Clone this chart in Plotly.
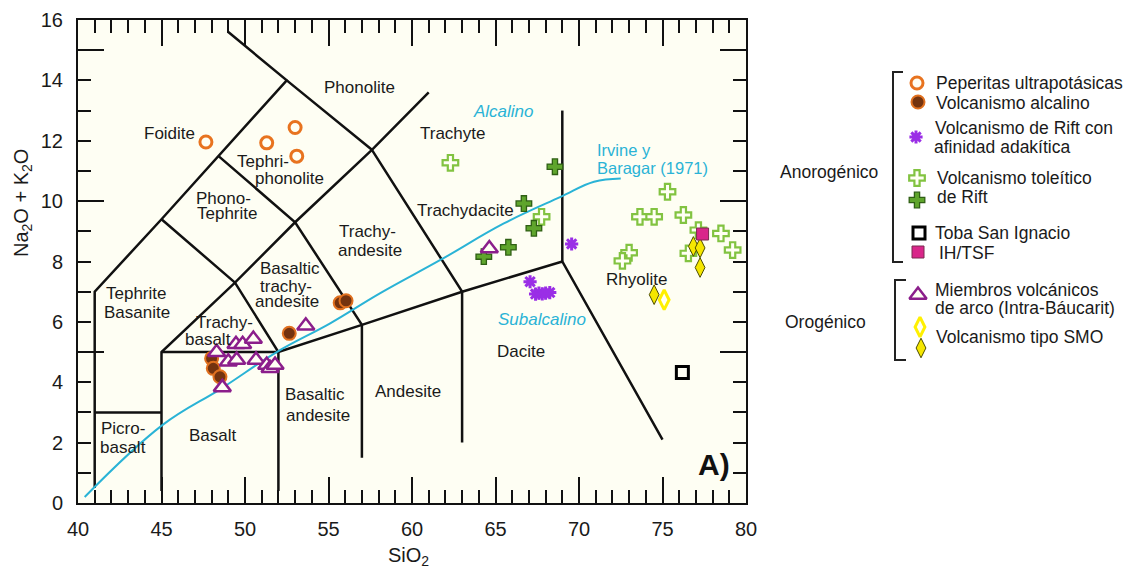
import plotly.graph_objects as go

W, H = 1129, 571
PX_L, PX_R, PX_T, PX_B = 78, 746, 20, 503
FONT = "Liberation Sans, Arial, sans-serif"

# ---------------- data ----------------
pep_x = [47.66, 51.3, 53.0, 53.1]
pep_y = [11.96, 11.93, 12.44, 11.49]

alc_x = [48.0, 48.1, 48.5, 52.65, 55.7, 56.05]
alc_y = [4.79, 4.46, 4.18, 5.62, 6.63, 6.70]

adak_x = [69.56, 67.07, 67.4, 67.6, 67.8, 68.0, 68.25]
adak_y = [8.58, 7.33, 6.92, 6.95, 6.93, 6.95, 6.97]

tol_light_x = [62.3, 67.76, 75.3, 73.65, 74.5, 76.25, 77.15, 78.5, 79.2, 76.55, 73.0, 72.6]
tol_light_y = [11.27, 9.48, 10.31, 9.48, 9.48, 9.54, 9.04, 8.93, 8.38, 8.27, 8.29, 8.02]

tol_dark_x = [68.56, 66.7, 67.3, 65.77, 64.3]
tol_dark_y = [11.14, 9.92, 9.1, 8.47, 8.16]

toba_x = [76.19]
toba_y = [4.32]

ih_x = [77.4]
ih_y = [8.91]

arc_x = [48.3, 49.0, 49.5, 49.46, 49.86, 50.5, 50.66, 51.3, 51.5, 51.8, 48.64, 53.64, 64.63]
arc_y = [4.99, 4.68, 4.74, 5.26, 5.26, 5.43, 4.74, 4.57, 4.46, 4.57, 3.83, 5.87, 8.43]

smo_open_x = [75.1]
smo_open_y = [6.73]
smo_fill_x = [76.85, 77.25, 77.25, 74.5]
smo_fill_y = [8.5, 8.45, 7.8, 6.9]

# Irvine & Baragar (1971) alkaline / subalkaline divide
ib_x = [40.4, 45.05, 48.6, 51.9, 55.1, 58.1, 61.7, 65.5, 68.9, 70.9, 72.5]
ib_y = [0.2, 2.58, 3.8, 5.0, 5.95, 6.95, 8.05, 9.26, 10.14, 10.64, 10.75]

# TAS field boundaries (Le Bas et al., 1986)
field_lines = [
    [(41, 0.5), (41, 7), (45, 9.4), (48.4, 11.5), (52.5, 14), (49.0, 15.6)],
    [(52.5, 14), (57.6, 11.7), (61, 13.6)],
    [(57.6, 11.7), (63, 7), (63, 2)],
    [(45, 9.4), (49.4, 7.3), (53, 9.3), (57.6, 11.7)],
    [(48.4, 11.5), (53, 9.3), (57, 5.9), (57, 1.5)],
    [(45, 0.4), (45, 5), (49.4, 7.3), (52, 5), (52, 0.4)],
    [(45, 5), (52, 5), (57, 5.9), (63, 7), (69, 8), (75.0, 2.1)],
    [(41, 3), (45, 3)],
    [(69, 8), (69, 13)],
]

# field names: (text, x, y)
field_labels = [
    ("Foidite", 45.45, 12.24), ("Phonolite", 56.84, 13.76),
    ("Tephri-", 51.10, 11.30), ("phonolite", 52.69, 10.75),
    ("Phono-", 48.70, 10.09), ("Tephrite", 48.90, 9.59),
    ("Trachyte", 62.47, 12.24),
    ("Trachy-", 57.31, 8.98), ("andesite", 57.49, 8.38),
    ("Trachydacite", 63.23, 9.70),
    ("Tephrite", 43.47, 6.94), ("Basanite", 43.55, 6.30),
    ("Basaltic", 52.69, 7.77), ("trachy-", 52.46, 7.16), ("andesite", 52.50, 6.67),
    ("Trachy-", 48.80, 5.97), ("basalt", 47.80, 5.42),
    ("Picro-", 42.71, 2.47), ("basalt", 42.71, 1.83),
    ("Basalt", 48.07, 2.22),
    ("Basaltic", 54.19, 3.58), ("andesite", 54.39, 2.91),
    ("Andesite", 59.76, 3.71), ("Dacite", 66.50, 5.02), ("Rhyolite", 73.43, 7.40),
]

CYAN = "#2ab3d6"
PURPLE = "#8b1e8b"

# marker styles
styles = {
    "pep": dict(symbol="circle", size=12, color="#fffff4", line=dict(color="#e8731f", width=3)),
    "alc": dict(symbol="circle", size=13, color="#74330f", line=dict(color="#e0701f", width=2)),
    "adak": dict(symbol="asterisk-open", size=11, color="#9a2ee6", line=dict(color="#9a2ee6", width=3)),
    "toll": dict(symbol="cross", size=13, color="#fffff4", line=dict(color="#82c341", width=2.2)),
    "told": dict(symbol="cross", size=13, color="#5fa52c", line=dict(color="#2f5f14", width=1.3)),
    "toba": dict(symbol="square-open", size=12, color="black", line=dict(color="black", width=3)),
    "ih": dict(symbol="square", size=12, color="#d9268a", line=dict(color="#7a2a50", width=1)),
    "arc": dict(symbol="triangle-up", size=15, color="#fffff4", line=dict(color=PURPLE, width=2.5)),
    "smoo": dict(symbol="diamond-tall", size=14, color="#fffff4", line=dict(color="#fff000", width=3)),
    "smof": dict(symbol="diamond-tall", size=14, color="#f5e600", line=dict(color="#4d4d00", width=1)),
}

fig = go.Figure()

# cream plot background
fig.add_shape(type="rect", xref="x", yref="y", x0=40, x1=80, y0=0, y1=16,
              fillcolor="#fefef3", line=dict(width=0), layer="below")

for seg in field_lines:
    fig.add_trace(go.Scatter(x=[p[0] for p in seg], y=[p[1] for p in seg], mode="lines",
                             line=dict(color="#111111", width=2.5), hoverinfo="skip",
                             showlegend=False))

fig.add_trace(go.Scatter(x=ib_x, y=ib_y, mode="lines",
                         line=dict(color=CYAN, width=2, shape="spline", smoothing=1.1),
                         hoverinfo="skip", showlegend=False))

series = [
    ("alc", alc_x, alc_y), ("pep", pep_x, pep_y), ("adak", adak_x, adak_y),
    ("toll", tol_light_x, tol_light_y), ("told", tol_dark_x, tol_dark_y),
    ("arc", arc_x, arc_y), ("toba", toba_x, toba_y),
    ("smoo", smo_open_x, smo_open_y), ("smof", smo_fill_x, smo_fill_y), ("ih", ih_x, ih_y),
]
for key, xs, ys in series:
    fig.add_trace(go.Scatter(x=xs, y=ys, mode="markers", marker=styles[key], showlegend=False))

# dummy trace for the overlay y axis carrying the long ticks
fig.add_trace(go.Scatter(x=[40], y=[0], xaxis="x", yaxis="y2", mode="markers",
                         marker=dict(opacity=0), hoverinfo="skip", showlegend=False))

# ---------------- legend (pixel overlay) ----------------
legend_keys = [("pep", 917, 83), ("alc", 918, 102), ("adak", 916, 137), ("toll", 917, 178),
               ("told", 917, 200), ("toba", 919, 233), ("ih", 918, 252), ("arc", 918, 295),
               ("smoo", 920, 327), ("smof", 921, 348)]
for key, px, py in legend_keys:
    fig.add_trace(go.Scatter(x=[px], y=[py], xaxis="x3", yaxis="y3", mode="markers",
                             marker=styles[key], hoverinfo="skip", showlegend=False))

brackets = [[(903, 72), (893, 72), (893, 262), (903, 262)],
            [(906, 280), (895, 280), (895, 360), (906, 360)]]
for b in brackets:
    fig.add_trace(go.Scatter(x=[p[0] for p in b], y=[p[1] for p in b], xaxis="x3", yaxis="y3",
                             mode="lines", line=dict(color="#222", width=2), hoverinfo="skip",
                             showlegend=False))

legend_texts = [("Peperitas ultrapotásicas", 934, 83), ("Volcanismo alcalino", 934, 103),
                ("Volcanismo de Rift con", 933, 128), ("afinidad adakítica", 932, 147),
                ("Volcanismo toleítico", 935, 178), ("de Rift", 935, 197),
                ("Toba San Ignacio", 933, 233), ("IH/TSF", 937, 253),
                ("Miembros volcánicos", 933, 290), ("de arco (Intra-Báucarit)", 933, 308),
                ("Volcanismo tipo SMO", 934, 337)]

annotations = []
for t, px, py in legend_texts:
    annotations.append(dict(text=t, x=px, y=py, xref="x3", yref="y3", xanchor="left",
                            yanchor="middle", showarrow=False,
                            font=dict(family=FONT, size=17.5, color="#1a1a1a")))
for t, px, py in [("Anorogénico", 829, 172), ("Orogénico", 825, 322)]:
    annotations.append(dict(text=t, x=px, y=py, xref="x3", yref="y3", showarrow=False,
                            font=dict(family=FONT, size=17.5, color="#1a1a1a")))

for t, x, y in field_labels:
    annotations.append(dict(text=t, x=x, y=y, xref="x", yref="y", showarrow=False,
                            font=dict(family=FONT, size=17, color="#1a1a1a")))

annotations += [
    dict(text="<i>Alcalino</i>", x=65.47, y=12.96, xref="x", yref="y", showarrow=False,
         font=dict(family=FONT, size=17, color=CYAN)),
    dict(text="<i>Subalcalino</i>", x=67.80, y=6.08, xref="x", yref="y", showarrow=False,
         font=dict(family=FONT, size=17, color=CYAN)),
    dict(text="Irvine y", x=70.96, y=11.70, xref="x", yref="y", xanchor="left", showarrow=False,
         font=dict(family=FONT, size=16.5, color=CYAN)),
    dict(text="Baragar (1971)", x=70.96, y=11.10, xref="x", yref="y", xanchor="left",
         showarrow=False, font=dict(family=FONT, size=16.5, color=CYAN)),
    dict(text="<b>A)</b>", x=78.11, y=1.26, xref="x", yref="y", showarrow=False,
         font=dict(family=FONT, size=30, color="#111")),
    dict(text="SiO<sub>2</sub>", x=408, y=556, xref="x3", yref="y3", showarrow=False,
         font=dict(family=FONT, size=20, color="#1a1a1a")),
    dict(text="Na<sub>2</sub>O + K<sub>2</sub>O", x=22, y=203, xref="x3", yref="y3",
         textangle=-90, showarrow=False, font=dict(family=FONT, size=20, color="#1a1a1a")),
]

tick_common = dict(ticks="inside", tickcolor="#111", tickwidth=2, showline=True,
                   linecolor="#111", linewidth=2, mirror="ticks", showgrid=False,
                   zeroline=False, automargin=False,
                   tickfont=dict(family=FONT, size=20, color="#1a1a1a"))

fig.update_layout(
    width=W, height=H, margin=dict(l=0, r=0, t=0, b=0),
    paper_bgcolor="white", plot_bgcolor="rgba(0,0,0,0)",
    showlegend=False,
    xaxis=dict(domain=[PX_L / W, PX_R / W], range=[40, 80], tickmode="linear", tick0=40, dtick=5,
               ticklen=26, ticklabelstandoff=7, anchor="y",
               minor=dict(tick0=40, dtick=1, ticks="inside", ticklen=13, tickwidth=2,
                          tickcolor="#111"),
               **tick_common),
    yaxis=dict(domain=[1 - PX_B / H, 1 - PX_T / H], range=[0, 16], tickmode="linear", tick0=0,
               dtick=2, ticklen=13, ticklabelstandoff=9, anchor="x",
               minor=dict(tick0=0, dtick=1, ticks="inside", ticklen=13, tickwidth=2,
                          tickcolor="#111"),
               **tick_common),
    yaxis2=dict(overlaying="y", anchor="x", side="left", range=[0, 16], tickmode="array",
                tickvals=[5, 10, 15], ticks="inside", ticklen=26, tickwidth=2, tickcolor="#111",
                showticklabels=False, mirror="ticks", showline=False, showgrid=False,
                zeroline=False, automargin=False),
    xaxis3=dict(domain=[0, 1], range=[0, W], visible=False, anchor="y3", fixedrange=True),
    yaxis3=dict(domain=[0, 1], range=[H, 0], visible=False, anchor="x3", fixedrange=True),
    annotations=annotations,
)

fig.write_html("out.html")
